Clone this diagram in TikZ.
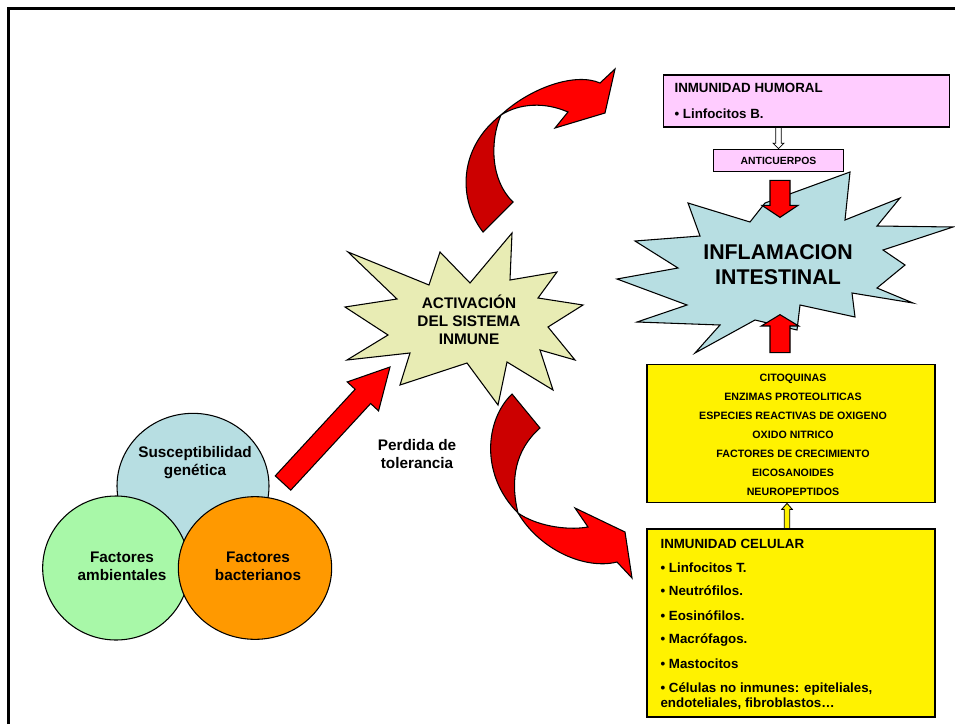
\documentclass[tikz,border=0pt]{standalone}
\usepackage{fontspec}
\setmainfont{Liberation Sans}
\usetikzlibrary{calc, positioning, shapes.geometric}

\definecolor{humpink}{RGB}{255,204,255}
\definecolor{inflamblue}{RGB}{183,222,226}
\definecolor{activyellow}{RGB}{232,236,180}
\definecolor{geneblue}{RGB}{183,222,226}
\definecolor{ambgreen}{RGB}{168,248,168}
\definecolor{bactorange}{RGB}{255,153,0}
\definecolor{arrowred}{RGB}{255,0,0}
\definecolor{arrowdark}{RGB}{204,0,0}

% block arrow: [style]{tail}{tip}{half shaft}{half head}{head length}
\newcommand\blockarrow[6][]{%
  \coordinate (ba-base) at ($(#3)!#6!(#2)$);
  \draw[#1] ($(#2)!#4!90:(#3)$) -- ($(ba-base)!#4!90:(#3)$)
    -- ($(ba-base)!#5!90:(#3)$) -- (#3)
    -- ($(ba-base)!#5!-90:(#3)$) -- ($(ba-base)!#4!-90:(#3)$)
    -- ($(#2)!#4!-90:(#3)$) -- cycle;}

\begin{document}
\begin{tikzpicture}[x=0.75pt, y=-0.75pt, thick,
    humbox/.style={draw, fill=humpink, inner sep=0pt},
    yelbox/.style={draw, fill=yellow, inner sep=0pt},
    burst/.style={draw, line join=miter},
    redarrow/.style={draw, fill=arrowred, line join=miter},
    darkarrow/.style={draw, fill=arrowdark, line join=miter},
    blob/.style={ellipse, draw, inner sep=0pt},
    bigtext/.style={font=\fontsize{16}{18.75}\selectfont\bfseries, align=center},
    startext/.style={font=\fontsize{11.5}{13.5}\selectfont\bfseries, align=center},
    circtext/.style={font=\fontsize{11.5}{13.5}\selectfont\bfseries, align=center},
    listtext/.style={font=\fontsize{10}{12}\selectfont\bfseries, anchor=base west, inner sep=0pt},
    medtext/.style={font=\fontsize{8}{9}\selectfont\bfseries, anchor=base, inner sep=0pt}]
  \useasboundingbox (0,0) rectangle (955,724);
  \draw[line width=2.25pt] (8,724) -- (8,9) -- (955,9);

  % the three factors
  \node[blob, fill=geneblue, minimum width=114pt, minimum height=109pt] (gen) at (193,486) {};
  \node[blob, fill=ambgreen, minimum width=110pt, minimum height=108pt] (amb) at (116,568) {};
  \node[blob, fill=bactorange, minimum width=115pt, minimum height=107pt] (bact) at (255,568) {};
  \node[circtext] (gentext) at (195,463) {Susceptibilidad\\genética};
  \node[circtext] (ambtext) at (122,566) {Factores\\ambientales};
  \node[circtext] (bacttext) at (258,566) {Factores\\bacterianos};
  \node[circtext] (perd) at (417,454) {Perdida de\\tolerancia};

  % activacion
  \draw[burst, fill=activyellow] (345,307) -- (397,299) -- (348,252) -- (429,285) -- (440,252)
    -- (470,283) -- (512,233) -- (510,280) -- (557,272) -- (538,298) -- (583,305)
    -- (548,327) -- (575,360) -- (540,350) -- (553,390) -- (507,362) -- (498,405)
    -- (467,363) -- (400,385) -- (410,353) -- (347,360) -- (388,335) -- cycle;
  \node[startext] (activ) at (469,320) {ACTIVACIÓN\\DEL SISTEMA\\INMUNE};

  % inflamacion
  \draw[burst, fill=inflamblue] (617,279) -- (678,268) -- (635,241) -- (700,236) -- (688,203)
    -- (750,222) -- (765,203) -- (850,172) -- (845,220) -- (900,198) -- (877,226)
    -- (953,227) -- (883,250) -- (905,265) -- (877,288) -- (913,303) -- (852,293)
    -- (855,317) -- (800,305) -- (797,330) -- (755,320) -- (695,353) -- (720,325)
    -- (637,322) -- (687,305) -- cycle;
  \node[bigtext] (inflam) at (778,265) {INFLAMACION\\INTESTINAL};

  % boxes
  \node[humbox, minimum width=215pt, minimum height=39pt] (humoral) at (806.5,101) {};
  \node[listtext] (humtitle) at (674,92) {INMUNIDAD HUMORAL};
  \node[listtext] (humlinf) at (674,118) {• Linfocitos B.};
  \node[humbox, minimum width=97pt, minimum height=17pt,
        font=\fontsize{7.8}{9}\selectfont\bfseries] (anti) at (778.5,160.5) {ANTICUERPOS};

  \node[yelbox, minimum width=216pt, minimum height=104pt] (mediad) at (791,433.5) {};
  \foreach \t [count=\i from 0] in {CITOQUINAS, ENZIMAS PROTEOLITICAS,
      ESPECIES REACTIVAS DE OXIGENO, OXIDO NITRICO, FACTORES DE CRECIMIENTO,
      EICOSANOIDES, NEUROPEPTIDOS}
    \node[medtext] (med-\i) at (793,381.5+19*\i) {\t};

  \node[yelbox, minimum width=216pt, minimum height=141pt] (celular) at (791,623) {};
  \foreach \y/\t in {548/INMUNIDAD CELULAR, 572/• Linfocitos T., 595/• Neutrófilos.,
      620/• Eosinófilos., 643/• Macrófagos., 668/• Mastocitos,
      692/{• Células no inmunes: epiteliales,}, 707/{endoteliales, fibroblastos…}}
    \node[listtext] (cel-\y) at (660,\y) {\t};

  % curved arrows
  \draw[darkarrow] (483,232) .. controls (458,200) and (458,148) .. (501,115)
    .. controls (490,140) and (490,180) .. (513,202) -- cycle;
  \draw[redarrow] (501,115) .. controls (530,88) and (575,72) .. (600,83) -- (615,69)
    -- (605,113) -- (555,128) -- (568,112) .. controls (545,102) and (520,103) .. (501,115) -- cycle;
  \draw[darkarrow] (512,394) .. controls (485,420) and (480,475) .. (518,513)
    .. controls (510,480) and (515,450) .. (540,428) -- cycle;
  \draw[redarrow] (518,513) .. controls (540,550) and (585,570) .. (617,562) -- (632,578)
    -- (625,532) -- (575,508) -- (588,527) .. controls (565,531) and (535,525) .. (518,513) -- cycle;

  % block arrows
  \coordinate (tolA) at (283,483);
  \coordinate (tolB) at (390,367);
  \blockarrow[redarrow]{tolA}{tolB}{7.9pt}{16pt}{30pt}
  \blockarrow[fill=white, semithick]{anti.north |- humoral.south}{anti.north}{2pt}{4pt}{4pt}
  \coordinate (downA) at ($(anti.south)+(1.5,8)$);
  \coordinate (downB) at ($(anti.south)+(1.5,45)$);
  \blockarrow[redarrow]{downA}{downB}{7.5pt}{13.5pt}{9pt}
  \coordinate (upA) at ($(mediad.north)+(-11,-11)$);
  \coordinate (upB) at ($(mediad.north)+(-11,-49)$);
  \blockarrow[redarrow]{upA}{upB}{7.5pt}{14pt}{8.5pt}
  \coordinate (celA) at ($(celular.north)+(-4,0)$);
  \coordinate (celB) at ($(mediad.south)+(-4,0)$);
  \blockarrow[fill=yellow, semithick]{celA}{celB}{2pt}{4pt}{4.5pt}
\end{tikzpicture}
\end{document}
